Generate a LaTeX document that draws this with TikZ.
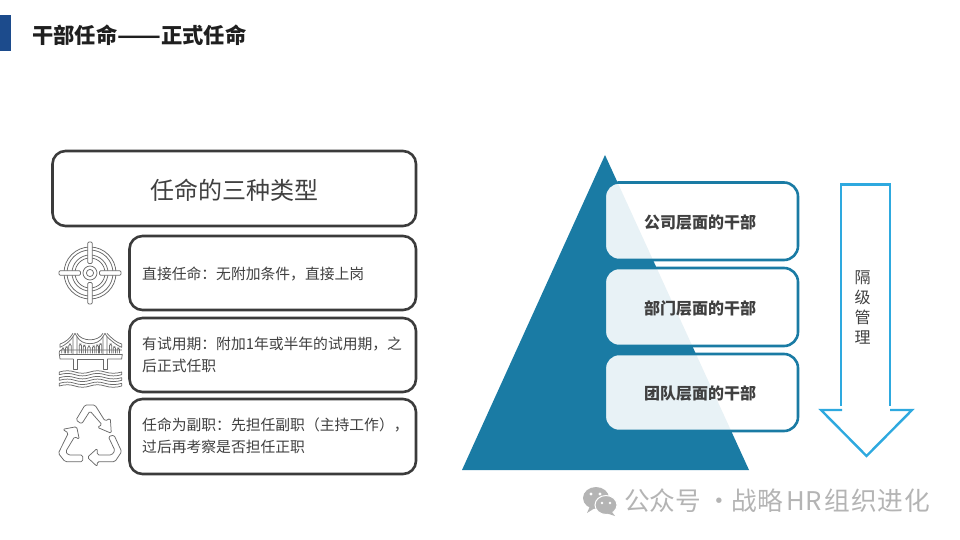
\documentclass[tikz,border=0pt]{standalone}
\usepackage{fontspec}
\setmainfont{Noto Sans CJK SC}
\usetikzlibrary{calc}
\definecolor{dk}{HTML}{3B3B3B}
\definecolor{txt}{HTML}{404040}
\definecolor{teal1}{HTML}{1A7BA4}
\definecolor{sky}{HTML}{2EA9DF}
\definecolor{navy}{HTML}{1C4B8C}
\definecolor{ico}{HTML}{6A6A6A}
\definecolor{wm}{HTML}{B4B4B4}
\tikzset{
 typebox/.style={draw=dk,line width=2.6pt,rounded corners=13pt,fill=white},
 lvlbox/.style={draw=teal1,line width=2.6pt,rounded corners=14pt,fill=white,fill opacity=0.9},
 desc/.style={text=txt,font=\fontsize{14.8}{22}\selectfont,anchor=west,align=left,inner sep=0pt},
 lvltxt/.style={text=txt,font=\fontsize{16}{18}\selectfont\bfseries,inner sep=0pt},
 icon/.style={draw=ico,line width=0.75pt,line join=round,fill=white},
}
\begin{document}
\begin{tikzpicture}[x=1pt,y=-1pt]
\useasboundingbox (0,0) rectangle (960,540);
\fill[navy] (0,15) rectangle (11,51);
\node[anchor=west,inner sep=0pt,text=black!88,font=\fontsize{21.3}{24}\selectfont\bfseries] (head) at (32,35) {干部任命\scalebox{1.2}[1]{——}正式任命};
% left column
\draw[typebox] (52.5,151) rectangle (416,226);
\node[text=txt,font=\fontsize{24}{28}\selectfont,inner sep=0pt] (t0) at (234,190) {任命的三种类型};
\draw[typebox] (129.5,236) rectangle (416,310);
\draw[typebox] (129.5,318) rectangle (416,392);
\draw[typebox] (129.5,399) rectangle (416,474);
\node[desc] (t1) at (142,274) {直接任命：无附加条件，直接上岗};
\node[desc] (t2) at (142,355) {有试用期：附加1年或半年的试用期，之\\后正式任职};
\node[desc] (t3) at (142,436) {任命为副职：先担任副职（主持工作），\\过后再考察是否担任正职};
% target icon
\begin{scope}[shift={(90,273)}]
 \draw[icon] (0,0) circle (26);
 \draw[icon] (0,0) circle (23);
 \draw[icon] (0,0) circle (18);
 \draw[icon] (0,0) circle (15);
 \foreach \a in {0,90,180,270}{
  \begin{scope}[rotate=\a]
   \draw[icon,rounded corners=1pt] (-2.2,-9.5) -- (-2.2,-31) -- (2.2,-31) -- (2.2,-9.5) -- cycle;
  \end{scope}}
 \draw[icon] (0,0) circle (7);
 \draw[icon] (0,0) circle (3.6);
\end{scope}
% bridge icon
\begin{scope}[shift={(40,320)},x=0.3333pt,y=-0.3333pt]
 \draw[icon,fill=none] (60,72) -- (60,82) .. controls (75,76) and (92,62) .. (99,50);
 \draw[icon,fill=none] (60,72) .. controls (75,68) and (90,55) .. (99,40);
 \draw[icon,fill=none] (111,50) .. controls (125,78) and (175,78) .. (189,50);
 \draw[icon,fill=none] (111,40) .. controls (125,66) and (175,66) .. (189,40);
 \draw[icon,fill=none] (245,72) -- (245,82) .. controls (230,76) and (213,62) .. (201,50);
 \draw[icon,fill=none] (245,72) .. controls (230,68) and (215,55) .. (201,40);
 \draw[icon,fill=none,rounded corners=2pt] (58,102) -- (58,90) -- (246,90);
 \draw[icon,fill=none] (58,102) -- (60,117) -- (100,117);
 \draw[icon,fill=none] (112,117) -- (190,117);
 \draw[icon,fill=none] (202,117) -- (245,117) -- (247,102);
 \draw[icon,fill=none] (60,102) -- (245,102);
 \draw[icon,fill=none] (100,117) -- (100,148) -- (112,148) -- (112,117);
 \draw[icon,fill=none] (190,117) -- (190,148) -- (202,148) -- (202,117);
 \draw[icon,fill=none] (99,102) -- (99,50) -- (105,40) -- (111,50) -- (111,102);
 \draw[icon,fill=none] (189,102) -- (189,50) -- (195,40) -- (201,50) -- (201,102);
 \foreach \x/\h in {69/84,80/80,90/72,121/72,133/76,147/78,161/78,172/75,182/71,212/72,223/80,235/84}{
   \draw[ico,line width=0.75pt,rounded corners=1.5pt] (\x-3.5,100) -- (\x-3.5,\h) -- (\x+3.5,\h) -- (\x+3.5,100);
 }
 \foreach \y in {156,173,190}{
  \draw[icon,fill=none] (58,\y) .. controls (75,\y-5) and (90,\y-5) .. (105,\y) .. controls (120,\y+5) and (135,\y+5) .. (150,\y) .. controls (165,\y-5) and (180,\y-5) .. (195,\y) .. controls (210,\y+5) and (230,\y+5) .. (245,\y)
   -- (245,\y+8) .. controls (230,\y+13) and (210,\y+13) .. (195,\y+8) .. controls (180,\y+3) and (165,\y+3) .. (150,\y+8) .. controls (135,\y+13) and (120,\y+13) .. (105,\y+8) .. controls (90,\y+3) and (75,\y+3) .. (58,\y+8) -- cycle;
 }
\end{scope}
% recycle icon
\begin{scope}[shift={(40,320)},x=0.3333pt,y=-0.3333pt]
 \draw[icon,rounded corners=1.5pt] (108,300) -- (135,255) -- (165,255) -- (195,303) -- (211,295) -- (214,340) -- (172,322) -- (186,314) -- (150,273) -- (125,312) -- cycle;
 \draw[icon,rounded corners=1.5pt] (68,328) -- (110,320) -- (118,358) -- (104,350) -- (77,395) -- (85,405) -- (128,405) -- (128,425) -- (75,425) -- (55,400) -- (85,339) -- cycle;
 \draw[icon,rounded corners=1.5pt] (205,350) -- (222,345) -- (245,395) -- (225,425) -- (172,425) -- (172,440) -- (142,412) -- (172,385) -- (172,405) -- (215,405) -- (225,392) -- cycle;
\end{scope}
% pyramid
\fill[teal1] (605,155) -- (749,470) -- (462,470) -- cycle;
\draw[lvlbox] (604.8,182.5) rectangle (798,260);
\draw[lvlbox] (604.8,268) rectangle (798,346);
\draw[lvlbox] (604.8,354) rectangle (798,431);
\node[lvltxt] (l1) at (700,222.5) {公司层面的干部};
\node[lvltxt] (l2) at (700,308.5) {部门层面的干部};
\node[lvltxt] (l3) at (700,393.5) {团队层面的干部};
% arrow
\draw[sky,line width=2.4pt] (841,406) -- (841,184.5) -- (890,184.5) -- (890,406);
\draw[sky,line width=2.4pt,line join=miter] (842,410) -- (821,410) -- (866.5,456) -- (912,410) -- (890,410);
\node[text=txt,font=\fontsize{16}{20}\selectfont,align=center,inner sep=0pt] (ar) at (862.5,307) {隔\\级\\管\\理};
% watermark
\node[anchor=west,inner sep=0pt,text=wm,font=\fontsize{25.7}{28}\selectfont] (w) at (624,501) {公众号\kern5pt·\kern0pt 战略\kern3pt HR\kern3pt 组\kern1pt 织\kern1pt 进\kern1pt 化};
\fill[wm] (596,498) ellipse (13 and 11);
\fill[wm] (590,506) -- (587,513) -- (595,508) -- cycle;
\draw[white,fill=wm,line width=1pt] (606,505) ellipse (11 and 9.5);
\fill[wm] (612,512) -- (615,516) -- (606,513) -- cycle;
\fill[white] (591,494) circle (1.6) (600,494) circle (1.6) (602,503) circle (1.3) (610,503) circle (1.3);
\end{tikzpicture}
\end{document}
